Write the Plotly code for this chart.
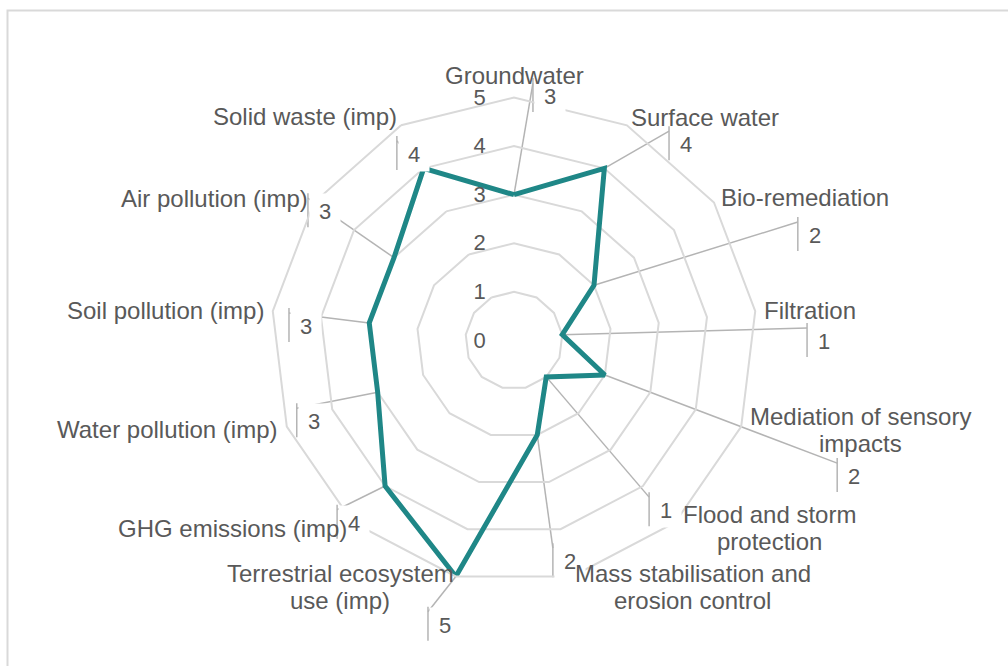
import math
import plotly.graph_objects as go

# ---- data -------------------------------------------------------------
categories = [
    "Groundwater", "Surface water", "Bio-remediation", "Filtration",
    "Mediation of sensory impacts", "Flood and storm protection",
    "Mass stabilisation and erosion control", "Terrestrial ecosystem use (imp)",
    "GHG emissions (imp)", "Water pollution (imp)", "Soil pollution (imp)",
    "Air pollution (imp)", "Solid waste (imp)",
]
category_lines = [
    ["Groundwater"], ["Surface water"], ["Bio-remediation"], ["Filtration"],
    ["Mediation of sensory", "impacts"], ["Flood and storm", "protection"],
    ["Mass stabilisation and", "erosion control"], ["Terrestrial ecosystem", "use (imp)"],
    ["GHG emissions (imp)"], ["Water pollution (imp)"], ["Soil pollution (imp)"],
    ["Air pollution (imp)"], ["Solid waste (imp)"],
]
scores = [3, 4, 2, 1, 2, 1, 2, 5, 4, 3, 3, 3, 4]
radial_ticks = [0, 1, 2, 3, 4, 5]

# ---- geometry (pixels) -------------------------------------------------
W, H = 1008, 666
CX, CY, R = 514, 340.5, 243          # centre and outer radius of the radar
RMAX = 5
UNIT = R / RMAX                       # pixels per score unit

# label placement in score units relative to the radar centre
# data label boxes: (left edge x, top edge y)
value_box = [
    (0.39, 5.40), (3.19, 4.41), (5.84, 2.54), (6.03, 0.36), (6.65, -2.42),
    (2.78, -3.12), (0.80, -4.17), (-1.77, -5.48), (-3.64, -3.38),
    (-4.47, -1.29), (-4.63, 0.67), (-4.24, 3.03), (-2.41, 4.21),
]
# category label centres
category_pos = [
    (0.00, 5.46), (3.93, 4.59), (5.99, 2.95), (6.09, 0.62), (7.12, -1.84),
    (5.25, -3.86), (3.68, -5.07), (-3.58, -5.07), (-5.80, -3.86),
    (-7.12, -1.84), (-7.18, 0.61), (-6.17, 2.93), (-4.30, 4.60),
]
BOX_W_PX, BOX_H_PX = 32, 34
BOX_H = BOX_H_PX / UNIT
ATTACH_DROP = 5 / UNIT
LINE_GAP = 27 / UNIT                  # baseline spacing for wrapped category labels

TEXT = "#595959"
GRID = "#d9d9d9"
LEADER = "#b4b4b4"
TEAL = "#1f8787"
FONT = "Liberation Sans, Arial, sans-serif"

fig = go.Figure()

# main series on the polar axes
fig.add_trace(go.Scatterpolar(
    r=scores + scores[:1],
    theta=categories + categories[:1],
    mode="lines",
    line=dict(color=TEAL, width=5),
    hoverinfo="skip",
    showlegend=False,
    subplot="polar",
))

# leader lines from each point to its value label (cartesian overlay in score units)
n = len(categories)
lx, ly = [], []
for i, (v, (bx, by)) in enumerate(zip(scores, value_box)):
    ang = 2 * math.pi * i / n
    px, py = v * math.sin(ang), v * math.cos(ang)
    lx += [px, bx, None, bx, bx, None]
    ly += [py, by - ATTACH_DROP, None, by, by - BOX_H, None]
fig.add_trace(go.Scatter(
    x=lx, y=ly, mode="lines",
    line=dict(color=LEADER, width=1.5),
    hoverinfo="skip", showlegend=False,
    xaxis="x", yaxis="y",
))

annotations = []
for v, (bx, by) in zip(scores, value_box):
    annotations.append(dict(
        x=bx + 1 / UNIT, y=by, xref="x", yref="y",
        xanchor="left", yanchor="top",
        text=str(v), showarrow=False,
        width=BOX_W_PX - 2, height=BOX_H_PX, borderpad=0,
        bgcolor="white", align="center", valign="middle",
        font=dict(family=FONT, size=22, color=TEXT),
    ))
for lines, (cx, cy) in zip(category_lines, category_pos):
    top = cy + LINE_GAP * (len(lines) - 1) / 2
    for k, txt in enumerate(lines):
        annotations.append(dict(
            x=cx, y=top - k * LINE_GAP, xref="x", yref="y",
            xanchor="center", yanchor="middle",
            text=txt, showarrow=False, align="center",
            font=dict(family=FONT, size=24, color=TEXT),
        ))

fig.update_layout(
    width=W, height=H,
    margin=dict(l=0, r=0, t=0, b=0),
    paper_bgcolor="white",
    plot_bgcolor="rgba(0,0,0,0)",
    font=dict(family=FONT, color=TEXT),
    polar=dict(
        domain=dict(x=[(CX - R) / W, (CX + R) / W],
                    y=[(H - CY - R) / H, (H - CY + R) / H]),
        bgcolor="rgba(0,0,0,0)",
        gridshape="linear",
        angularaxis=dict(
            type="category", categoryarray=categories,
            direction="clockwise", rotation=90,
            showgrid=False, showline=True, linecolor=GRID, linewidth=2,
            showticklabels=False, ticks="",
        ),
        radialaxis=dict(
            range=[0, RMAX], tickvals=radial_ticks, angle=90,
            showline=False, showgrid=True, gridcolor=GRID, gridwidth=2,
            ticks="outside", ticklen=20, tickcolor="rgba(0,0,0,0)",
            side="counterclockwise", tickangle=90,
            tickfont=dict(family=FONT, size=22, color=TEXT),
        ),
    ),
    xaxis=dict(domain=[0, 1], range=[-CX / UNIT, (W - CX) / UNIT],
               visible=False, fixedrange=True),
    yaxis=dict(domain=[0, 1], range=[-(H - CY) / UNIT, CY / UNIT],
               visible=False, fixedrange=True),
    annotations=annotations,
    shapes=[dict(type="rect", xref="paper", yref="paper",
                 x0=7.5 / W, x1=1.05, y0=-0.05, y1=1 - 10.5 / H,
                 line=dict(color=GRID, width=2), fillcolor="rgba(0,0,0,0)")],
)

fig.write_html("out.html")
